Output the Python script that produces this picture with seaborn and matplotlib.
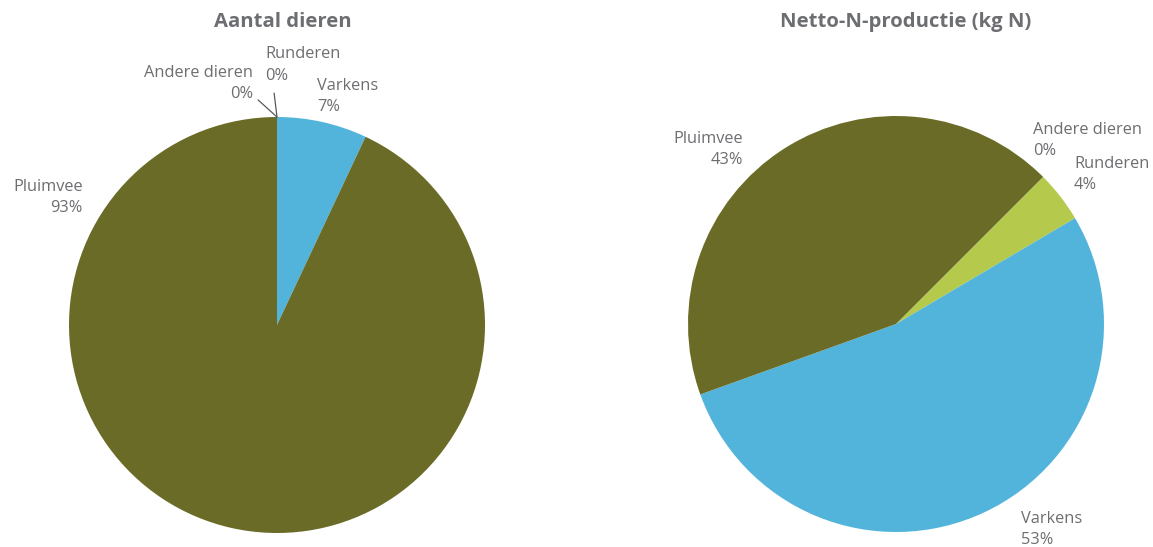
import matplotlib
matplotlib.use("Agg")
import matplotlib.pyplot as plt
import seaborn as sns

# Shares per animal category (%)
categories = ["Runderen", "Varkens", "Pluimvee", "Andere dieren"]
aantal_dieren = [0, 7, 93, 0]
netto_n = [4, 53, 43, 0]
titles = ["Aantal dieren", "Netto-N-productie (kg N)"]

sns.set_theme(style="white")
plt.rcParams["font.family"] = ["Open Sans", "DejaVu Sans"]

colors = {"Runderen": "#B5C94C", "Varkens": "#52B4DA",
          "Pluimvee": "#696B26", "Andere dieren": "#8C8C8C"}
text_col = "#6D6E71"

# label anchors in pie-radius units: (x, y, horizontal alignment)
label_pos = [
    {"Runderen": (-0.058, 1.25, "left"), "Varkens": (0.192, 1.10, "left"),
     "Pluimvee": (-0.933, 0.615, "right"), "Andere dieren": (-0.115, 1.163, "right")},
    {"Runderen": (0.856, 0.721, "left"), "Varkens": (0.601, -0.986, "left"),
     "Pluimvee": (-0.736, 0.841, "right"), "Andere dieren": (0.659, 0.88, "left")},
]
leaders = [
    {"Runderen": (-0.014, 1.115), "Andere dieren": (-0.091, 1.082)},
    {},
]
start_angles = [90, 45]

W, H = 1153, 547
fig = plt.figure(figsize=(W / 100, H / 100), dpi=100)
centers = [(277, 325), (896, 324)]
R = 208

for i, (vals, title) in enumerate(zip([aantal_dieren, netto_n], titles)):
    cx, cy = centers[i]
    ax = fig.add_axes([(cx - R) / W, (H - cy - R) / H, 2 * R / W, 2 * R / H])
    ax.pie(vals, colors=[colors[c] for c in categories], startangle=start_angles[i],
           counterclock=False, radius=1, wedgeprops={"linewidth": 0})
    ax.set_xlim(-1, 1)
    ax.set_ylim(-1, 1)
    ax.set_aspect("equal")
    ax.axis("off")
    for cat, v in zip(categories, vals):
        x, y, ha = label_pos[i][cat]
        ax.text(x, y, f"{cat}\n{v}%", ha=ha, va="center", multialignment=ha,
                fontsize=11.8, color=text_col, linespacing=1.42, clip_on=False)
        if cat in leaders[i]:
            lx, ly = leaders[i][cat]
            ax.plot([lx, 0], [ly, 1.0], color="#595959", lw=0.9, clip_on=False)
    fig.text(cx / W + (0.005 if i == 0 else 0.008), 1 - 22 / H, title, ha="center", va="center",
             fontsize=14.6, fontweight="bold", color=text_col)

fig.savefig("out.png", dpi=100, facecolor="white")
